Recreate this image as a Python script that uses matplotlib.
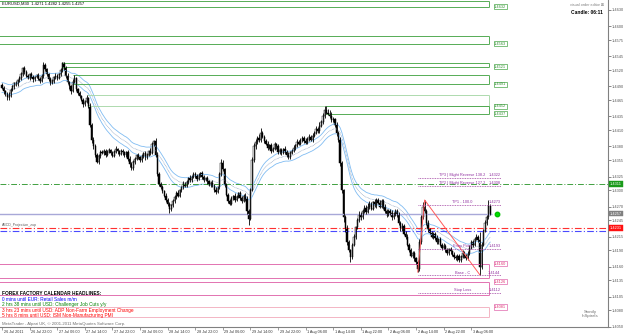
import numpy as np
import pandas as pd
import matplotlib
matplotlib.use("Agg")
import matplotlib.pyplot as plt
from matplotlib.transforms import blended_transform_factory

plt.rcParams['font.family'] = ['Liberation Sans', 'DejaVu Sans']

# EURUSD M30 bars, prices in pips above 1.4000 (open of a bar = previous close)
first_open = 492
closes = [
    488, 481, 476, 470, 474, 483, 490, 496, 494, 501, 505, 512,
    524, 516, 510, 506, 512, 508, 503, 507, 511, 504, 500, 509,
    530, 522, 512, 504, 496, 500, 507, 510, 505, 512, 520, 532,
    524, 510, 498, 490, 482, 498, 505, 486, 478, 472, 466, 458,
    462, 468, 455, 420, 392, 380, 365, 352, 362, 370, 368, 372,
    365, 370, 374, 368, 363, 370, 375, 371, 366, 372, 369, 364,
    370, 358, 348, 340, 352, 358, 364, 360, 355, 362, 368, 360,
    365, 372, 368, 385, 390, 365, 330, 312, 305, 298, 290, 282,
    275, 265, 272, 280, 288, 295, 290, 300, 306, 312, 308, 315,
    322, 318, 325, 330, 326, 320, 328, 332, 324, 318, 322, 316,
    310, 314, 308, 300, 296, 305, 330, 350, 338, 310, 292, 280,
    275, 285, 290, 282, 288, 294, 286, 280, 290, 284, 262, 248,
    300, 355, 380, 388, 396, 392, 404, 398, 390, 385, 378, 382,
    372, 376, 384, 380, 370, 374, 368, 375, 370, 365, 360, 368,
    372, 378, 382, 388, 385, 392, 396, 390, 387, 394, 398, 392,
    400, 405, 412, 408, 418, 425, 436, 446, 442, 440, 435, 428,
    430, 420, 405, 392, 350, 300, 250, 230, 205, 190, 178, 200,
    215, 232, 245, 255, 250, 262, 268, 260, 270, 275, 266, 278,
    272, 282, 276, 270, 280, 270, 262, 255, 262, 258, 250, 256,
    262, 255, 240, 230, 235, 220, 215, 200, 190, 180, 185, 175,
    168, 155, 205, 250, 270, 262, 240, 228, 222, 215, 220, 212,
    205, 210, 200, 195, 198, 190, 185, 192, 188, 182, 178, 175,
    180, 172, 178, 185, 180, 176, 184, 195, 205, 200, 210, 215,
    208, 160, 200, 225, 240, 250, 271, 257,
]
wick_hi = [
    4, 3, 2, 3, 5, 4, 3, 2, 4, 3, 4, 5,
    2, 3, 4, 3, 2, 4, 3, 3, 2, 4, 3, 3,
    5, 3, 2, 3, 4, 3, 2, 4, 3, 3, 4, 3,
    2, 3, 4, 2, 3, 5, 6, 3, 2, 3, 2, 3,
    4, 7, 3, 4, 3, 5, 4, 3, 4, 3, 4, 3,
    3, 4, 3, 2, 4, 3, 5, 3, 2, 4, 3, 3,
    2, 3, 4, 3, 4, 3, 2, 4, 3, 4, 2, 3,
    3, 2, 5, 4, 2, 5, 4, 3, 3, 4, 3, 5,
    3, 4, 2, 3, 4, 3, 5, 3, 2, 4, 3, 4,
    3, 5, 2, 4, 3, 4, 3, 2, 4, 3, 3, 4,
    3, 2, 4, 3, 5, 3, 4, 8, 5, 3, 4, 3,
    3, 4, 2, 4, 3, 2, 4, 3, 3, 4, 5, 3,
    4, 5, 6, 5, 4, 6, 10, 4, 3, 4, 5, 3,
    4, 3, 5, 3, 4, 3, 4, 3, 5, 3, 4, 3,
    3, 4, 3, 5, 3, 4, 3, 4, 5, 3, 4, 3,
    4, 3, 5, 4, 6, 4, 6, 8, 8, 6, 7, 8,
    4, 3, 4, 3, 5, 4, 3, 5, 6, 4, 3, 4,
    5, 3, 4, 6, 5, 4, 5, 4, 6, 5, 4, 3,
    5, 3, 4, 6, 3, 4, 5, 3, 4, 3, 5, 4,
    3, 4, 5, 3, 4, 3, 5, 4, 3, 5, 3, 4,
    3, 4, 6, 5, 8, 12, 4, 5, 3, 4, 3, 4,
    5, 3, 4, 3, 5, 3, 4, 3, 4, 3, 4, 3,
    3, 4, 3, 5, 4, 3, 4, 5, 4, 3, 5, 4,
    3, 15, 5, 4, 6, 5, 11, 3,
]
wick_lo = [
    3, 4, 3, 5, 4, 3, 2, 4, 3, 3, 2, 4,
    3, 4, 3, 2, 4, 3, 4, 3, 2, 3, 4, 2,
    3, 4, 3, 4, 3, 2, 4, 3, 3, 2, 3, 4,
    3, 4, 3, 4, 5, 3, 2, 4, 3, 4, 3, 5,
    3, 2, 4, 5, 6, 4, 5, 3, 4, 3, 2, 4,
    4, 3, 2, 4, 3, 3, 2, 4, 3, 2, 4, 3,
    3, 4, 5, 3, 3, 4, 3, 2, 4, 3, 3, 4,
    2, 3, 3, 2, 4, 5, 4, 4, 3, 4, 3, 4,
    4, 7, 3, 2, 3, 4, 3, 2, 4, 3, 3, 2,
    4, 3, 3, 2, 4, 3, 2, 3, 4, 3, 2, 4,
    3, 4, 3, 4, 3, 2, 3, 4, 3, 4, 3, 4,
    3, 2, 3, 4, 2, 3, 4, 3, 2, 4, 5, 12,
    3, 2, 3, 4, 3, 4, 3, 2, 4, 3, 4, 3,
    4, 3, 2, 4, 3, 3, 4, 2, 3, 4, 3, 3,
    2, 3, 4, 3, 2, 3, 4, 3, 2, 3, 4, 2,
    3, 2, 3, 4, 3, 2, 3, 4, 3, 2, 3, 4,
    3, 4, 5, 4, 6, 5, 8, 6, 5, 4, 10, 4,
    3, 4, 3, 4, 5, 3, 4, 3, 2, 4, 3, 2,
    3, 4, 2, 3, 3, 4, 3, 5, 3, 4, 4, 3,
    3, 4, 3, 5, 4, 3, 4, 3, 4, 3, 4, 4,
    4, 5, 3, 4, 3, 4, 3, 4, 3, 3, 4, 3,
    3, 4, 3, 4, 3, 4, 3, 3, 4, 3, 4, 3,
    4, 3, 3, 2, 4, 3, 3, 2, 3, 4, 3, 2,
    3, 15, 4, 3, 2, 3, 3, 2,
]

time_labels = ["26 Jul 2011", "26 Jul 22:00", "27 Jul 06:00", "27 Jul 14:00", "27 Jul 22:00",
               "28 Jul 06:00", "28 Jul 14:00", "28 Jul 22:00", "29 Jul 06:00", "29 Jul 14:00",
               "29 Jul 22:00", "1 Aug 06:00", "1 Aug 14:00", "1 Aug 22:00", "2 Aug 06:00",
               "2 Aug 14:00", "2 Aug 22:00", "3 Aug 06:00"]
price_ticks = [1.4630, 1.4600, 1.4575, 1.4545, 1.4520, 1.4490, 1.4465, 1.4435, 1.4410, 1.4380,
               1.4355, 1.4325, 1.4300, 1.4270, 1.4245, 1.4215, 1.4190, 1.4160, 1.4135, 1.4105,
               1.4080, 1.4050]

# supply zones (green) and demand zones (pink)
supply_top = [1.4646, 1.4582, 1.4533, 1.4511, 1.4474, 1.4454]
supply_bot = [1.4636, 1.4568, 1.4526, 1.4494, 1.4454, 1.4440]
supply_start = [-2, -2, 35, 41, 49, 188]
supply_labels = ["1.4632", "1.4563", "1.4521", "1.4491", "1.4452", "1.4437"]
demand_top = [1.4165, 1.4132, 1.4086]
demand_bot = [1.4139, 1.4108, 1.4068]
demand_labels = ["1.4160", "1.4126", "1.4081"]

# AB=CD trade plan
plan_names = ["TP3 | Might Reverse 138.2", "TP2 | Might Reverse 127.2", "TP1 - 100.0",
              "Entry Point", "Base - C", "Stop Loss"]
plan_prices = [1.4322, 1.4308, 1.4273, 1.4193, 1.4144, 1.4112]
abcd_bars = [241, 245, 277]

pivot_green = 1.4311
pivot_red = 1.4231
pivot_blue = 1.4225

calendar = [("FOREX FACTORY CALENDAR HEADLINES:", "black"),
            ("0 mins until EUR: Retail Sales m/m", "#0000ff"),
            ("2 hrs 38 mins until USD: Challenger Job Cuts y/y", "#008000"),
            ("3 hrs 23 mins until USD: ADP Non-Farm Employment Change", "#ff0000"),
            ("5 hrs 8 mins until USD: ISM Non-Manufacturing PMI", "#ff0000")]

# ---- build price arrays
c = np.array(closes, dtype=float)
o = np.r_[first_open, c[:-1]]
hi = np.maximum(o, c) + np.array(wick_hi)
lo = np.minimum(o, c) - np.array(wick_lo)
c, o, hi, lo = [1.4 + v / 10000 for v in (c, o, hi, lo)]
idx = np.arange(len(c))
ema = pd.Series(c).ewm(span=24, adjust=False).mean().values

fig = plt.figure(figsize=(6.25, 3.36), dpi=100)
fig.patch.set_facecolor('white')
ax = fig.add_axes([0, 9 / 336, 608 / 625, 327 / 336])
ax.set_xlim(-1.16, 351.3)
ax.set_ylim(1.40494, 1.46483)
for s in ('left', 'top'):
    ax.spines[s].set_visible(False)
for s in ('right', 'bottom'):
    ax.spines[s].set_color('#808080')
    ax.spines[s].set_linewidth(0.8)

# envelope
ax.plot(idx, ema + 0.0009, color='#80bcf2', lw=0.6)
ax.plot(idx, ema - 0.0009, color='#80bcf2', lw=0.6)
ax.plot(idx, ema, color='#8098b8', lw=0.5, ls=(0, (1, 1)))

# zones
right = 282.3
for t, b, s0 in zip(supply_top, supply_bot, supply_start):
    col = '#a8d8a8' if t == 1.4474 else '#4aa64a'
    ax.hlines([t, b], s0, right, color=col, lw=0.65)
    ax.vlines(right, b, t, color=col, lw=0.65)
for b, lab in zip(supply_bot, supply_labels):
    ax.text(285.3, b, lab, fontsize=2.8, color='#2f8f2f', va='center', ha='left',
            bbox=dict(boxstyle='square,pad=0.15', fc='white', ec='#4aa64a', lw=0.5))
for k, (t, b) in enumerate(zip(demand_top, demand_bot)):
    col = '#f2b0c0' if k == 2 else '#e068ac'
    ax.hlines([t, b], -2, right, color=col, lw=0.65)
    ax.vlines(right, b, t, color=col, lw=0.65)
for t, lab in zip(demand_top, demand_labels):
    ax.text(285.3, t, lab, fontsize=2.8, color='#e03070', va='center', ha='left',
            bbox=dict(boxstyle='square,pad=0.15', fc='white', ec='#e068ac', lw=0.5))

# pivots / price lines
ax.axhline(pivot_green, color='#40a040', lw=0.7, ls=(0, (6, 2, 1, 2)))
ax.axhline(pivot_red, color='#ff3030', lw=0.8, ls=(0, (6, 2, 1, 2)))
ax.axhline(pivot_blue, color='#4a4aff', lw=0.8, ls=(0, (6, 2, 1, 2)))
ax.hlines(c[-1], -2, right + 2, color='#a8a8d8', lw=1.0)

# candles
ax.vlines(idx, lo, hi, color='black', lw=0.6)
bull = c >= o
body_lo = np.minimum(o, c)
body_h = np.maximum(np.abs(c - o), 0.00006)
ax.bar(idx, body_h, bottom=body_lo, width=0.75,
       color=np.where(bull, 'white', 'black'), edgecolor='black', lw=0.35)

# AB=CD zigzag and plan
ax.plot(abcd_bars, [lo[abcd_bars[0]], hi[abcd_bars[1]], lo[abcd_bars[2]]], color='#ff5a5a', lw=0.7)
for name, p in zip(plan_names, plan_prices):
    ax.hlines(p, abcd_bars[0], 289, color='#a040a0', lw=0.6, ls=(0, (1, 1)))
    ax.text(267, p + 0.00015, name, fontsize=2.8, color='#9030a0', ha='center', va='bottom')
    ax.text(289, p + 0.00015, f"{p:.4f}", fontsize=2.8, color='#9030a0', ha='right', va='bottom')
ax.plot(287, c[-1], 'o', color='#00e000', ms=3.2, mec='#00c000')

# axes ticks
ax.yaxis.tick_right()
ax.set_yticks(price_ticks)
ax.set_yticklabels([f"{p:.4f}" for p in price_ticks])
ax.tick_params(axis='y', length=1.8, width=0.5, colors='#555555', labelsize=2.8, pad=1)
tick_pos = np.arange(len(time_labels)) * 16
ax.set_xticks(tick_pos)
ax.tick_params(axis='x', length=2.2, width=0.5, colors='#777777', labelbottom=False)
bt = blended_transform_factory(ax.transData, ax.transAxes)
for pos, lab in zip(tick_pos, time_labels):
    ax.text(pos + 0.9, -0.016, lab, transform=bt, fontsize=2.7, color='#333333',
            ha='left', va='center', clip_on=False)

# price boxes on axis
by = blended_transform_factory(ax.transAxes, ax.transData)
for p, fc in [(pivot_green, '#1a9a1a'), (c[-1], '#808080'), (pivot_red, '#ff1010')]:
    ax.text(1.003, p, f"{p:.4f}", transform=by, fontsize=2.8, color='white', ha='left', va='center',
            bbox=dict(boxstyle='square,pad=0.2', fc=fc, ec=fc, lw=0.3), clip_on=False)

# texts
fig.text(2 / 625, 1 - 4 / 336, "EURUSD,M30  1.4271 1.4282 1.4255 1.4257", fontsize=3.0,
         color='black', va='center')
fig.text(604 / 625, 1 - 5 / 336, "visual order editor \u22a0", fontsize=2.7, color='#808080',
         ha='right', va='center')
fig.text(603 / 625, 1 - 12 / 336, "Candle: 06:11", fontsize=3.5, color='black',
         ha='right', va='center', fontweight='bold')
fig.text(2 / 625, 1 - 225 / 336, "ABCD_Projection_zup", fontsize=2.5, color='#606060', va='center')
for k, (line, col) in enumerate(calendar):
    fig.text(2 / 625, 1 - (293.5 + k * 5.6) / 336, line, fontsize=3.4, color=col, va='center',
             fontweight='bold' if k == 0 else 'normal')
fig.text(2 / 625, 1 - 323.5 / 336, "MetaTrader - Alpari UK, \u00a9 2001-2011 MetaQuotes Software Corp.",
         fontsize=3.1, color='#707070', va='center')
fig.text(590 / 625, 1 - 314 / 336, "Stonily\nInSpirals", fontsize=3.2, color='#707070',
         ha='center', va='center', linespacing=0.9)

fig.savefig("out.png", dpi=100)
